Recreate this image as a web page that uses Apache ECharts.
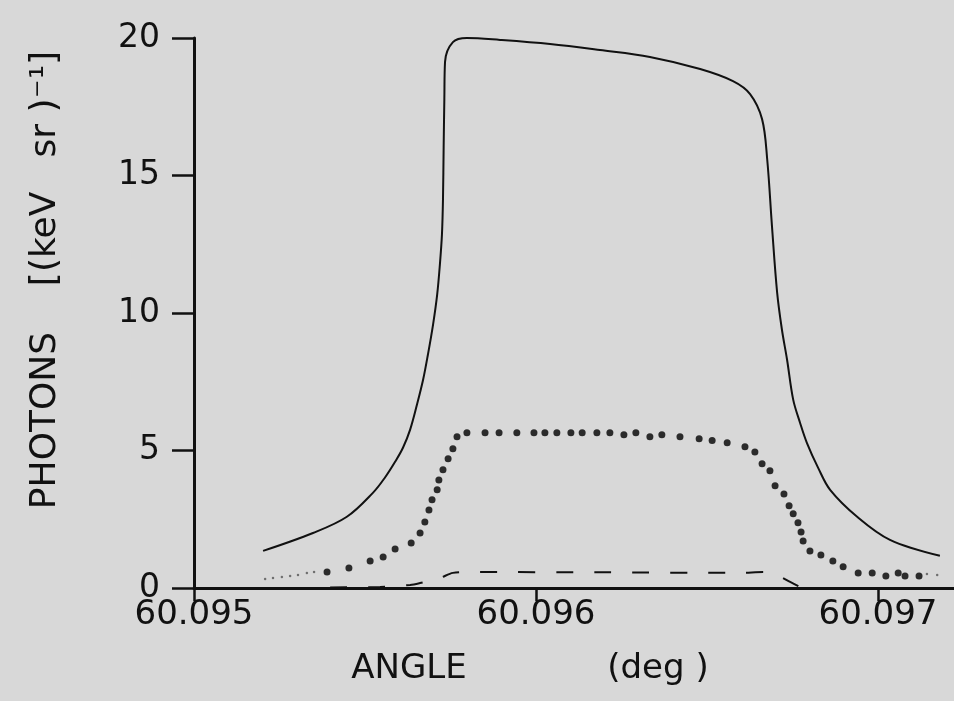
<!DOCTYPE html>
<html>
<head>
<meta charset="utf-8">
<script src="https://cdn.jsdelivr.net/npm/echarts@6/dist/echarts.min.js"></script>
<style>
  html, body { margin: 0; padding: 0; background: #d8d8d8; }
  #photons { width: 954px; height: 701px; }
</style>
</head>
<body>
<div id="photons"></div>
<script>
// angle in deg, photons per (keV sr)
const solidAngle = [60.095202, 60.095348, 60.095447, 60.095523, 60.095558, 60.095588, 60.095611, 60.095632,
  60.095652, 60.09567, 60.095684, 60.095699, 60.095711, 60.095719, 60.095725, 60.095728, 60.09573,
  60.095732, 60.095734, 60.095757, 60.095798, 60.095895, 60.096041, 60.096187, 60.096333, 60.09648,
  60.096576, 60.096626, 60.096661, 60.096676, 60.09669, 60.096705, 60.096719, 60.096734, 60.096752,
  60.096772, 60.096792, 60.096825, 60.09686, 60.096939, 60.097035, 60.097181];
const solidPhotons = [1.35, 2.0, 2.59, 3.46, 4.01, 4.59, 5.1, 5.76,
  6.67, 7.58, 8.49, 9.58, 10.67, 11.77, 12.86, 14.13, 16.07,
  17.78, 19.13, 19.85, 20.0, 19.93, 19.78, 19.56, 19.31, 18.87,
  18.43, 17.96, 17.05, 15.59, 13.15, 10.75, 9.4, 8.31, 6.85,
  6.01, 5.28, 4.37, 3.57, 2.59, 1.75, 1.17];

const dotAngle = [60.095389, 60.095453, 60.095515, 60.095553, 60.095588, 60.095635, 60.095661, 60.095675,
  60.095687, 60.095696, 60.095711, 60.095716, 60.095728, 60.095743, 60.095757, 60.095769, 60.095798,
  60.095851, 60.095892, 60.095944, 60.095994, 60.096026, 60.096061, 60.096102, 60.096135, 60.096178,
  60.096216, 60.096257, 60.096292, 60.096333, 60.096368, 60.096421, 60.096477, 60.096515, 60.096559,
  60.096611, 60.09664, 60.096661, 60.096684, 60.096699, 60.096725, 60.09674, 60.096752, 60.096766,
  60.096775, 60.096781, 60.096801, 60.096833, 60.096868, 60.096898, 60.096942, 60.096983, 60.097023,
  60.097059, 60.097079, 60.09712];
const dotPhotons = [0.58, 0.73, 0.98, 1.13, 1.42, 1.64, 2.0, 2.4,
  2.84, 3.21, 3.57, 3.93, 4.3, 4.7, 5.06, 5.5, 5.65,
  5.65, 5.65, 5.65, 5.65, 5.65, 5.65, 5.65, 5.65, 5.65,
  5.65, 5.57, 5.65, 5.5, 5.57, 5.5, 5.43, 5.36, 5.28,
  5.14, 4.95, 4.52, 4.26, 3.72, 3.42, 2.99, 2.7, 2.37,
  2.04, 1.71, 1.35, 1.2, 0.98, 0.77, 0.55, 0.55, 0.44,
  0.55, 0.44, 0.44];

// faint small dots in the tails
const tailAngle = [60.095208, 60.095231, 60.095257, 60.095281, 60.095304, 60.09533, 60.095351, 60.097143, 60.097173];
const tailPhotons = [0.33, 0.36, 0.4, 0.44, 0.47, 0.55, 0.58, 0.51, 0.47];

const dashAngle = [60.095398, 60.095544, 60.095632, 60.095661, 60.095719, 60.095757, 60.095807, 60.096187,
  60.096597, 60.096664, 60.096708, 60.096743, 60.096772];
const dashPhotons = [0.02, 0.04, 0.11, 0.18, 0.36, 0.55, 0.58, 0.57,
  0.55, 0.58, 0.44, 0.22, 0.04];

const xTicks = [60.095, 60.096, 60.097];

const pairs = (xs, ys) => xs.map((x, i) => [x, ys[i]]);

const ink = '#111';
const font = 'DejaVu Sans';

let chart = echarts.init(document.getElementById('photons'));
chart.setOption({
  backgroundColor: '#d8d8d8',
  animation: false,
  grid: { left: 194, right: 0, top: 38, bottom: 113 },
  xAxis: {
    type: 'value',
    min: 60.095,
    max: 60.0972222,
    name: 'ANGLE             (deg )',
    nameLocation: 'middle',
    nameGap: 64,
    nameTextStyle: { color: ink, fontFamily: font, fontSize: 34, padding: [0, 88, 0, 0] },
    axisLine: { onZero: false, lineStyle: { color: ink, width: 3 } },
    axisTick: { customValues: xTicks, length: 13, lineStyle: { color: ink, width: 2.5 } },
    axisLabel: {
      customValues: xTicks,
      margin: 10,
      color: ink,
      fontFamily: font,
      fontSize: 34,
      formatter: v => v.toFixed(3)
    },
    splitLine: { show: false }
  },
  yAxis: {
    type: 'value',
    min: 0,
    max: 20,
    interval: 5,
    name: 'PHOTONS    [(keV   sr )⁻¹]',
    nameLocation: 'middle',
    nameGap: 130,
    nameRotate: 90,
    nameTextStyle: { color: ink, fontFamily: font, fontSize: 36, padding: [0, 0, 0, 66] },
    axisLine: { show: true, lineStyle: { color: ink, width: 3 } },
    axisTick: { show: true, length: 22, lineStyle: { color: ink, width: 2.5 } },
    axisLabel: { margin: 34, color: ink, fontFamily: font, fontSize: 33 },
    splitLine: { show: false }
  },
  series: [
    {
      name: 'total',
      type: 'line',
      data: pairs(solidAngle, solidPhotons),
      smooth: 0.35,
      showSymbol: false,
      lineStyle: { color: ink, width: 2 }
    },
    {
      name: 'dashed',
      type: 'line',
      data: pairs(dashAngle, dashPhotons),
      smooth: 0.3,
      showSymbol: false,
      lineStyle: { color: ink, width: 2, type: [17, 21] }
    },
    {
      name: 'dots',
      type: 'scatter',
      data: pairs(dotAngle, dotPhotons),
      symbol: 'circle',
      symbolSize: 7,
      itemStyle: { color: '#000' }
    },
    {
      name: 'tail',
      type: 'scatter',
      data: pairs(tailAngle, tailPhotons),
      symbol: 'circle',
      symbolSize: 2.5,
      itemStyle: { color: '#555' }
    }
  ]
});
</script>
</body>
</html>
